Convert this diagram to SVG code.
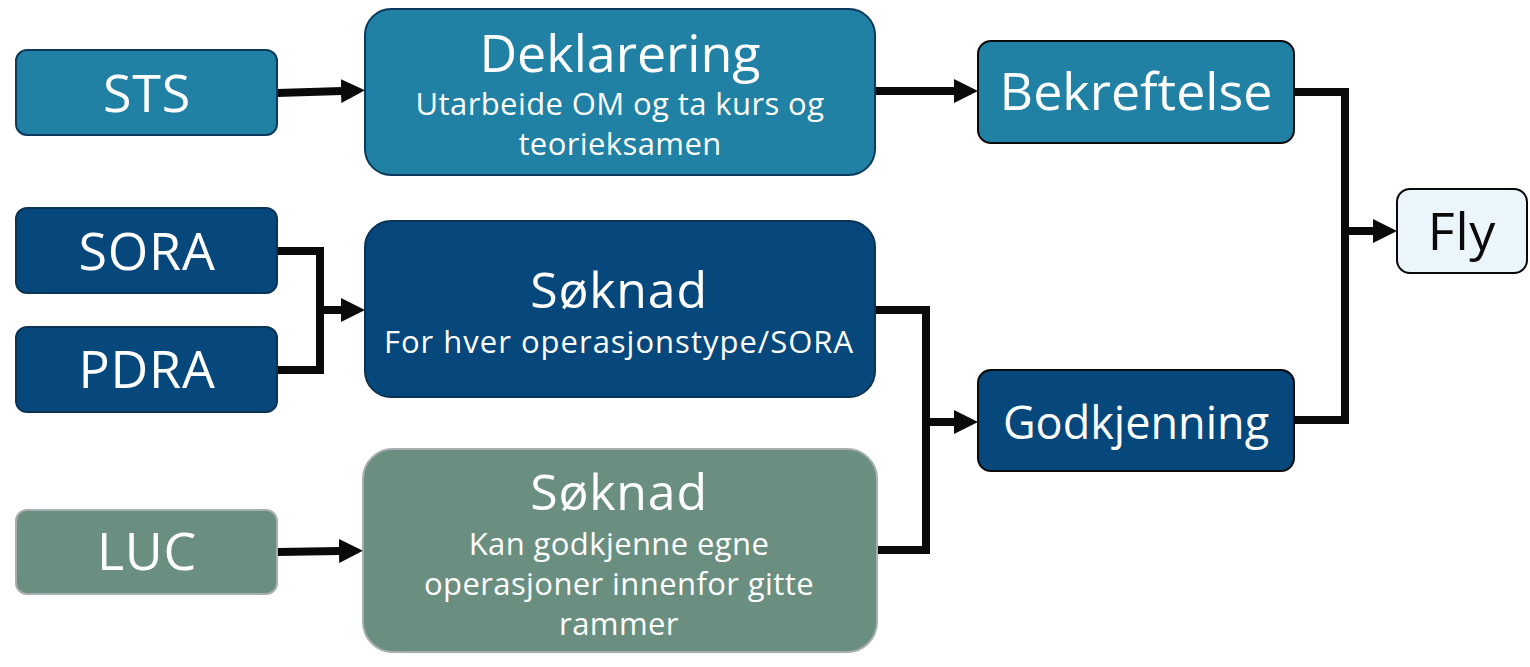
<svg xmlns="http://www.w3.org/2000/svg" width="1530" height="667" viewBox="0 0 1530 667">
<style>
text{font-family:"Open Sans","Noto Sans","Liberation Sans",sans-serif;fill:#ffffff;text-anchor:middle}
.teal{fill:#2081a5;stroke:#0b3a5c;stroke-width:2}
.teal2{fill:#2081a5;stroke:#0a0a0a;stroke-width:2}
.navy{fill:#06477c;stroke:#0b3454;stroke-width:2}
.navy2{fill:#06477c;stroke:#0a0a0a;stroke-width:2}
.green{fill:#6a8e7f;stroke:#a7adb0;stroke-width:2}
.light{fill:#eaf6fc;stroke:#0a0a0a;stroke-width:2}
.t1{font-size:52px;letter-spacing:0.8px}
.t2{font-size:31px;letter-spacing:0.4px}
.dark{fill:#0a0a0a}
.conn{fill:none;stroke:#0a0a0a;stroke-width:8;stroke-linejoin:miter}
</style>
<defs>
<marker id="ah" markerUnits="userSpaceOnUse" markerWidth="24" markerHeight="24" viewBox="0 0 24 24" refX="1" refY="12" orient="auto">
<path d="M0,0 L24,12 L0,24 z" fill="#0a0a0a"/>
</marker>
</defs>
<g id="connectors">
<path class="conn" d="M277,93 L342,91" marker-end="url(#ah)"/>
<path class="conn" d="M277,251 H320 V370 H277"/>
<path class="conn" d="M320,310 H342" marker-end="url(#ah)"/>
<path class="conn" d="M875,91 H955" marker-end="url(#ah)"/>
<path class="conn" d="M875,310 H926 V550 H877"/>
<path class="conn" d="M926,422 H955" marker-end="url(#ah)"/>
<path class="conn" d="M1294,92 H1345 V420 H1294"/>
<path class="conn" d="M1345,231 H1374" marker-end="url(#ah)"/>
<path class="conn" d="M277,552 L340,551" marker-end="url(#ah)"/>
</g>
<g id="sts">
<rect class="teal" x="16" y="50" width="261" height="85" rx="11"/>
<text class="t1" x="147" y="112">STS</text>
</g>
<g id="sora">
<rect class="navy" x="16" y="208" width="261" height="85" rx="11"/>
<text class="t1" x="147" y="270">SORA</text>
</g>
<g id="pdra">
<rect class="navy" x="16" y="327" width="261" height="85" rx="11"/>
<text class="t1" x="147" y="388">PDRA</text>
</g>
<g id="luc">
<rect class="green" x="16" y="510" width="261" height="84" rx="11"/>
<text class="t1" x="147" y="570">LUC</text>
</g>
<g id="deklarering">
<rect class="teal" x="365" y="9" width="510" height="166" rx="26"/>
<text class="t1" x="620" y="72" style="letter-spacing:0">Deklarering</text>
<text class="t2" x="620" y="115">Utarbeide OM og ta kurs og</text>
<text class="t2" x="620" y="155">teorieksamen</text>
</g>
<g id="soknad1">
<rect class="navy" x="365" y="221" width="510" height="176" rx="26"/>
<text class="t1" x="619" y="308" style="font-size:50px">Søknad</text>
<text class="t2" x="619" y="353" style="letter-spacing:1px">For hver operasjonstype/SORA</text>
</g>
<g id="soknad2">
<rect class="green" x="363" y="449" width="514" height="203" rx="30"/>
<text class="t1" x="619" y="510" style="font-size:50px">Søknad</text>
<text class="t2" x="619" y="555">Kan godkjenne egne</text>
<text class="t2" x="619" y="595">operasjoner innenfor gitte</text>
<text class="t2" x="619" y="635">rammer</text>
</g>
<g id="bekreftelse">
<rect class="teal2" x="978" y="41" width="316" height="102" rx="13"/>
<text class="t1" x="1136" y="110" style="letter-spacing:0">Bekreftelse</text>
</g>
<g id="godkjenning">
<rect class="navy2" x="978" y="370" width="316" height="101" rx="13"/>
<text class="t1" x="1136" y="439" style="font-size:45px;letter-spacing:0">Godkjenning</text>
</g>
<g id="fly">
<rect class="light" x="1397" y="189" width="130" height="84" rx="13"/>
<text class="t1 dark" x="1462" y="250">Fly</text>
</g>
</svg>
